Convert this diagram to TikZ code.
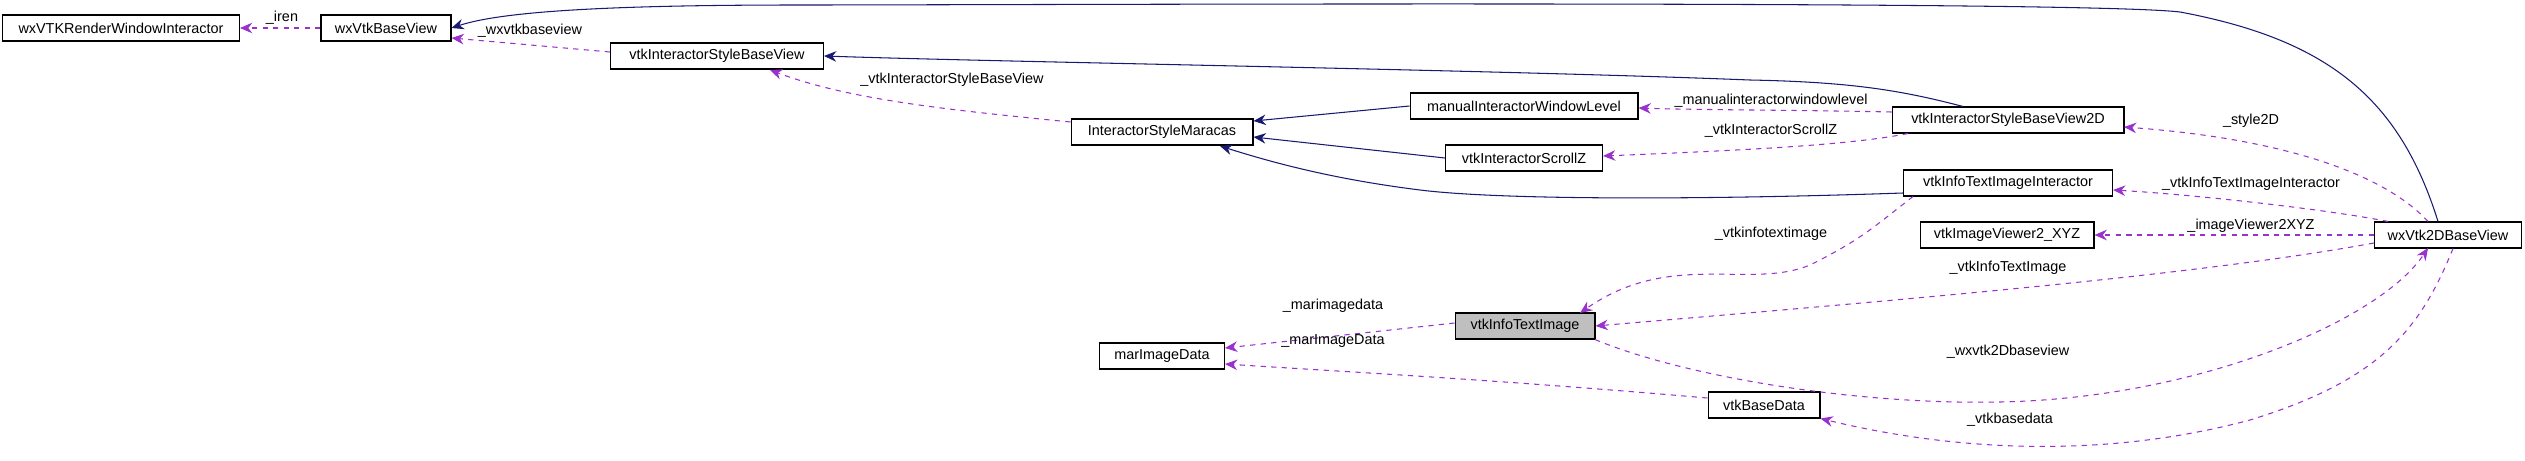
\documentclass[tikz,border=0pt]{standalone}
\usepackage{fontspec}
\setmainfont{Liberation Sans}
\usetikzlibrary{arrows.meta}
\definecolor{navy}{RGB}{25,25,112}
\definecolor{orch}{RGB}{153,50,204}
\begin{document}
\begin{tikzpicture}[x=0.02cm,y=-0.02cm,
  box/.style={draw, semithick, minimum height=0.52cm, inner sep=0pt, font=\fontsize{8.2}{9}\selectfont, anchor=center},
  inh/.style={draw=navy, semithick, -{Stealth[length=7pt,width=6pt]}},
  use/.style={draw=orch, semithick, dashed, -{Stealth[length=7pt,width=6pt]}},
  lab/.style={font=\fontsize{8.2}{9}\selectfont, inner sep=1pt}]
\useasboundingbox (0,0) rectangle (2525,460);
\node[box, minimum width=4.74cm] (rwi) at (121,28) {wxVTKRenderWindowInteractor};
\node[box, minimum width=2.6cm] (bv) at (386,28) {wxVtkBaseView};
\node[box, minimum width=4.26cm] (isbv) at (717,56) {vtkInteractorStyleBaseView};
\node[box, minimum width=3.64cm] (ism) at (1162,132) {InteractorStyleMaracas};
\node[box, minimum width=4.56cm] (mwl) at (1524,106) {manualInteractorWindowLevel};
\node[box, minimum width=3.14cm] (sz) at (1524,158) {vtkInteractorScrollZ};
\node[box, minimum width=4.64cm] (isbv2) at (2008,120) {vtkInteractorStyleBaseView2D};
\node[box, minimum width=4.18cm] (itii) at (2008,183) {vtkInfoTextImageInteractor};
\node[box, minimum width=3.48cm] (iv) at (2007,235) {vtkImageViewer2\_XYZ};
\node[box, minimum width=2.94cm] (w2d) at (2448,235) {wxVtk2DBaseView};
\node[box, minimum width=2.8cm, fill={rgb,255:red,191;green,191;blue,191}] (iti) at (1525,326) {vtkInfoTextImage};
\node[box, minimum width=2.5cm] (mid) at (1162,356) {marImageData};
\node[box, minimum width=2.24cm] (bd) at (1764,405) {vtkBaseData};

% inheritance
\draw[inh] (w2d.north) ++(-10,0) .. controls (2400,100) and (2330,40) .. (2180,12) .. controls (2080,0) and (1000,5) .. (800,5) .. controls (600,5) and (500,12) .. (bv.east);
\draw[inh] (isbv2.north) ++(-45,0) .. controls (1900,90) and (1850,82) .. (1750,80) .. controls (1500,70) and (1000,62) .. (isbv.east);
\draw[inh] (mwl.west) -- (ism.east |- 0,121);
\draw[inh] (sz.west) -- (ism.east |- 0,137);
\draw[inh] (itii.west) ++(0,10) .. controls (1700,200) and (1500,200) .. (1420,190) .. controls (1340,180) and (1280,165) .. (1220,146);

% usage
\draw[use] (bv.west) -- (rwi.east);
\node[lab] (l1) at (282,18) {\_iren};
\draw[use] (isbv.west) ++(0,-4) -- (bv.east |- 0,38);
\node[lab] (l2) at (530,31) {\_wxvtkbaseview};
\draw[use] (ism.west) ++(0,-10) .. controls (950,110) and (850,100) .. (770,70);
\node[lab] (l3) at (952,80) {\_vtkInteractorStyleBaseView};
\draw[use] (isbv2.west) ++(0,-8) .. controls (1800,110) and (1700,110) .. (mwl.east |- 0,108);
\node[lab] (l4) at (1771,101) {\_manualinteractorwindowlevel};
\draw[use] (isbv2.south) ++(-100,0) .. controls (1850,145) and (1750,150) .. (sz.east |- 0,156);
\node[lab] (l5) at (1771,131) {\_vtkInteractorScrollZ};
\draw[use] (w2d.north) ++(-20,0) .. controls (2390,180) and (2300,140) .. (2124,127);
\node[lab] (l6) at (2251,121) {\_style2D};
\draw[use] (w2d.north) ++(-60,0) .. controls (2330,210) and (2200,195) .. (2113,190);
\node[lab] (l7) at (2251,184) {\_vtkInfoTextImageInteractor};
\draw[use] (w2d.west) -- (iv.east);
\node[lab] (l8) at (2251,226) {\_imageViewer2XYZ};
\draw[use] (w2d.west) ++(0,8) .. controls (2200,275) and (1900,300) .. (iti.east);
\node[lab] (l9) at (2008,268) {\_vtkInfoTextImage};
\draw[use] (itii.south) ++(-95,0) .. controls (1870,230) and (1860,240) .. (1810,265) .. controls (1750,290) and (1670,250) .. (1580,313);
\node[lab] (l10) at (1771,234) {\_vtkinfotextimage};
\draw[use] (iti.south) ++(70,0) .. controls (1680,375) and (1850,405) .. (2000,402) .. controls (2200,398) and (2380,320) .. (2428,248);
\node[lab] (l11) at (2008,352) {\_wxvtk2Dbaseview};
\draw[use] (iti.west) ++(0,-3) -- (mid.east |- 0,348);
\node[lab] (l12) at (1333,306) {\_marimagedata};
\draw[use] (bd.west) ++(0,-7) .. controls (1500,380) and (1350,372) .. (mid.east |- 0,364);
\node[lab] (l13) at (1333,341) {\_marImageData};
\draw[use] (w2d.south) ++(5,0) .. controls (2420,330) and (2380,380) .. (2250,420) .. controls (2100,460) and (1950,450) .. (bd.south east);
\node[lab] (l14) at (2010,420) {\_vtkbasedata};
\end{tikzpicture}
\end{document}
